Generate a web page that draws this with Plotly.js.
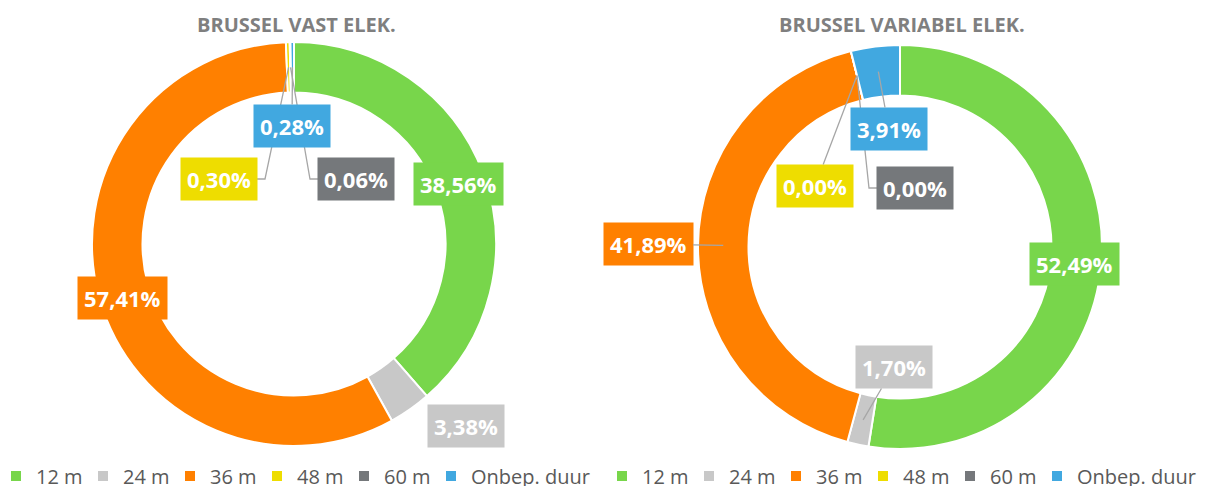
<!DOCTYPE html>
<html>
<head>
<meta charset="utf-8">
<script src="https://cdn.plot.ly/plotly-3.0.1.min.js"></script>
<style>html,body{margin:0;padding:0;background:#fff;}#chart{width:1206px;height:486px;}</style>
</head>
<body>
<div id="chart"></div>
<script>
// ---- data ----
const categories = ['12 m', '24 m', '36 m', '48 m', '60 m', 'Onbep. duur'];
const vastValues = [38.56, 3.38, 57.41, 0.30, 0.06, 0.28];
const variabelValues = [52.49, 1.70, 41.89, 0.00, 0.00, 3.91];
const chartTitles = ['BRUSSEL VAST ELEK.', 'BRUSSEL VARIABEL ELEK.'];

// ---- styles / layout ----
const colors = ['#78D64B', '#C8C8C8', '#FF8000', '#EEDD00', '#75787B', '#41A8E0'];
const W = 1206, H = 486;
const R = 202, HOLE = 0.75;
const centers = [{x: 294, y: 244}, {x: 900, y: 247}];
// label box offsets from donut centre (px) and leader style
const labelPlacement = [
  [{dx: 164, dy: -60, line: 'none'}, {dx: 172, dy: 182, line: 'none'}, {dx: -172, dy: 54, line: 'none'},
   {dx: -75, dy: -65, line: 'elbowR'}, {dx: 62, dy: -65, line: 'elbowL'}, {dx: -2, dy: -118, line: 'straight'}],
  [{dx: 174, dy: 17, line: 'none'}, {dx: -6, dy: 120, line: 'straight'}, {dx: -252, dy: -3, line: 'straight'},
   {dx: -85, dy: -61, line: 'straight'}, {dx: 15, dy: -59, line: 'elbowL'}, {dx: -11, dy: -118, line: 'straight'}]
];
const font = '"Open Sans", "Noto Sans", sans-serif';
const leaderColor = '#A6A6A6';

const series = [vastValues, variabelValues];
const traces = [];
const annotations = [];
const shapes = [];
const px = x => x / W, py = y => 1 - y / H;

series.forEach((vals, i) => {
  const c = centers[i];
  traces.push({
    type: 'pie',
    // second chart gets its own legend entries (zero-width space keeps text identical)
    labels: i === 0 ? categories : categories.map(s => s + '\u200B'),
    values: vals,
    hole: HOLE,
    sort: false,
    direction: 'clockwise',
    rotation: 0,
    textinfo: 'none',
    hoverinfo: 'label+percent',
    marker: {colors: colors, line: {color: '#ffffff', width: 2}},
    domain: {x: [px(c.x - R), px(c.x + R)], y: [py(c.y + R), py(c.y - R)]},
    legend: i === 0 ? 'legend' : 'legend2',
    showlegend: true
  });
  const total = vals.reduce((a, b) => a + b, 0);
  let cum = 0;
  vals.forEach((v, k) => {
    const mid = (cum + v / 2) / total;
    cum += v;
    const th = mid * 2 * Math.PI;
    const rMid = R * (1 + HOLE) / 2;
    const hx = c.x + rMid * Math.sin(th);
    const hy = c.y - rMid * Math.cos(th);
    const p = labelPlacement[i][k];
    const bx = c.x + p.dx, by = c.y + p.dy;
    const txt = v.toFixed(2).replace('.', ',') + '%';
    const ann = {
      xref: 'paper', yref: 'paper',
      text: '<b>' + txt + '</b>',
      font: {family: font, size: 22, color: '#ffffff'},
      bgcolor: colors[k],
      borderpad: 6,
      xanchor: 'center', yanchor: 'middle'
    };
    if (p.line === 'straight') {
      Object.assign(ann, {
        x: px(hx), y: py(hy),
        showarrow: true, arrowhead: 0, arrowwidth: 1.3, arrowcolor: leaderColor, standoff: 0,
        axref: 'pixel', ayref: 'pixel', ax: bx - hx, ay: by - hy
      });
    } else {
      Object.assign(ann, {x: px(bx), y: py(by), showarrow: false});
      if (p.line === 'elbowR' || p.line === 'elbowL') {
        const ex = bx + (p.line === 'elbowR' ? 46 : -46);
        shapes.push({
          type: 'path', xref: 'paper', yref: 'paper', layer: 'above',
          path: `M ${px(hx)} ${py(hy)} L ${px(ex)} ${py(by)} L ${px(bx)} ${py(by)}`,
          line: {color: leaderColor, width: 1.3}
        });
      }
    }
    annotations.push(ann);
  });
  annotations.push({
    xref: 'paper', yref: 'paper', x: px(c.x + 2), y: py(24),
    text: '<b>' + chartTitles[i] + '</b>', showarrow: false,
    font: {family: font, size: 20, color: '#7F7F7F'},
    xanchor: 'center', yanchor: 'middle'
  });
});

const legendBase = {
  orientation: 'h', yanchor: 'middle', y: py(476), xanchor: 'left',
  font: {family: font, size: 20, color: '#595959'},
  bgcolor: 'rgba(0,0,0,0)', itemwidth: 30, tracegroupgap: 0,
  entrywidth: 42, entrywidthmode: 'pixels'
};

const layout = {
  width: W, height: H,
  margin: {l: 0, r: 0, t: 0, b: 0, autoexpand: false},
  paper_bgcolor: '#ffffff',
  font: {family: font},
  showlegend: true,
  legend: Object.assign({}, legendBase, {x: px(-4)}),
  legend2: Object.assign({}, legendBase, {x: px(602)}),
  annotations: annotations,
  shapes: shapes
};

Plotly.newPlot('chart', traces, layout, {displayModeBar: false, staticPlot: true}).then(gd => {
  // let the last legend entry's text run past the fixed entry width
  gd.querySelectorAll('.infolayer > g[class^="legend"]').forEach(g => {
    g.removeAttribute('clip-path');
    g.querySelectorAll('[clip-path]').forEach(el => el.removeAttribute('clip-path'));
  });
});
</script>
</body>
</html>
